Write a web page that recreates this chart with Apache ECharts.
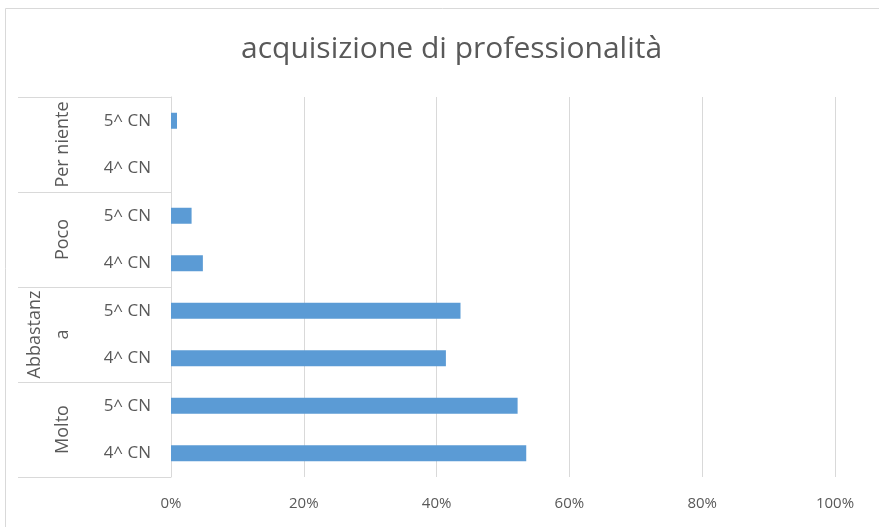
<!DOCTYPE html>
<html>
<head>
<meta charset="utf-8">
<script src="https://cdn.jsdelivr.net/npm/echarts@6/dist/echarts.min.js"></script>
<style>
  html, body { margin: 0; padding: 0; background: #fff; }
  #chart { width: 879px; height: 527px; }
</style>
</head>
<body>
<div id="chart"></div>
<script>
// categories, bottom to top
const rowLabels = ['4^ CN', '5^ CN', '4^ CN', '5^ CN', '4^ CN', '5^ CN', '4^ CN', '5^ CN']
const groupLabels = ['Molto', 'Abbastanza', 'Poco', 'Per niente']
// percentages
const values = [53.5, 52.2, 41.4, 43.6, 4.8, 3.1, 0, 0.9]
const xTicks = [0, 20, 40, 60, 80, 100]

const chart = echarts.init(document.getElementById('chart'))

const textColor = '#595959'
const lineColor = '#d9d9d9'
const font = '"Open Sans", "Noto Sans", sans-serif'

chart.setOption({
  animation: false,
  title: {
    text: 'acquisizione di professionalità',
    left: 236,
    top: 29,
    textStyle: { color: textColor, fontSize: 30, fontWeight: 'normal', fontFamily: font }
  },
  graphic: [{
    type: 'rect',
    shape: { x: 5.5, y: 8.5, width: 900, height: 600 },
    style: { fill: 'none', stroke: lineColor, lineWidth: 1 },
    silent: true
  }],
  grid: { left: 171, right: 44, top: 97, bottom: 50 },
  xAxis: {
    type: 'value',
    min: xTicks[0],
    max: xTicks[xTicks.length - 1],
    interval: 20,
    axisLine: { show: false },
    axisTick: { show: false },
    splitLine: { show: true, lineStyle: { color: lineColor, width: 1 } },
    axisLabel: {
      color: textColor, fontSize: 15, fontFamily: font, margin: 19,
      formatter: v => v + '%'
    }
  },
  yAxis: [
    {
      type: 'category',
      data: rowLabels,
      axisLine: { show: true, lineStyle: { color: lineColor, width: 1 } },
      axisTick: { show: false },
      axisLabel: { color: textColor, fontSize: 17, fontFamily: font, margin: 20, interval: 0 }
    },
    {
      type: 'category',
      data: groupLabels,
      position: 'left',
      axisLine: { show: false },
      axisTick: { show: true, interval: 0, length: 153, lineStyle: { color: lineColor, width: 1 } },
      axisLabel: {
        color: textColor, fontSize: 18, fontFamily: font, margin: 94, interval: 0,
        rotate: 90, width: 92, overflow: 'breakAll', lineHeight: 28
      }
    }
  ],
  series: [{
    type: 'bar',
    yAxisIndex: 0,
    data: values,
    barWidth: 16,
    itemStyle: { color: '#5b9bd5' }
  }]
})
</script>
</body>
</html>
